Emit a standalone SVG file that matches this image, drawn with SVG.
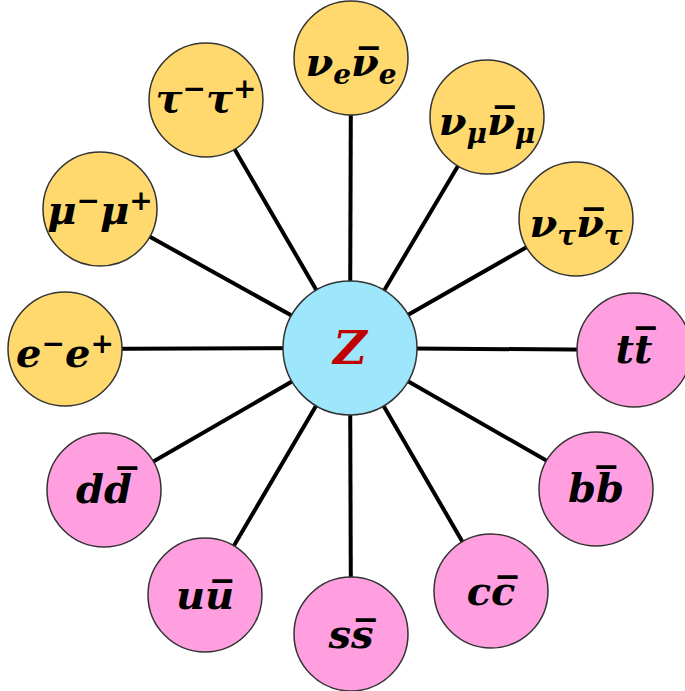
<svg xmlns="http://www.w3.org/2000/svg" width="685" height="691" viewBox="0 0 685 691">
<style>
.bg{fill:#ffffff}
.lep{fill:#ffd86e;stroke:#333333;stroke-width:1.5}
.qk{fill:#ff9fe0;stroke:#333333;stroke-width:1.5}
.zc{fill:#9de6fb;stroke:#333333;stroke-width:1.5}
.conn line{stroke:#000000;stroke-width:4}
.t{font-family:"DejaVu Serif","Liberation Serif",serif;font-style:italic;font-weight:bold;font-size:40px;fill:#000000;text-anchor:middle}
.s{font-size:28px}
.z{fill:#c00000;font-size:46px}
</style>
<rect class="bg" x="0" y="0" width="685" height="691"/>
<g id="connectors" class="conn">
<line x1="350" y1="348" x2="351" y2="58"/>
<line x1="350" y1="348" x2="487" y2="117"/>
<line x1="350" y1="348" x2="576" y2="219"/>
<line x1="350" y1="348" x2="634" y2="350"/>
<line x1="350" y1="348" x2="596" y2="489"/>
<line x1="350" y1="348" x2="491" y2="591"/>
<line x1="350" y1="348" x2="351" y2="634"/>
<line x1="350" y1="348" x2="205" y2="595"/>
<line x1="350" y1="348" x2="104" y2="490"/>
<line x1="350" y1="348" x2="65" y2="349"/>
<line x1="350" y1="348" x2="100" y2="209"/>
<line x1="350" y1="348" x2="206" y2="100"/>
</g>
<g id="nue">
<circle class="lep" cx="351" cy="58" r="57"/>
<text class="t" x="351" y="76">ν<tspan class="s" dy="8">e</tspan><tspan dy="-8">ν̅</tspan><tspan class="s" dy="8">e</tspan></text>
</g>
<g id="numu">
<circle class="lep" cx="487" cy="117" r="57"/>
<text class="t" x="487" y="135">ν<tspan class="s" dy="8">μ</tspan><tspan dy="-8">ν̅</tspan><tspan class="s" dy="8">μ</tspan></text>
</g>
<g id="nutau">
<circle class="lep" cx="576" cy="219" r="57"/>
<text class="t" x="576" y="237">ν<tspan class="s" dy="8">τ</tspan><tspan dy="-8">ν̅</tspan><tspan class="s" dy="8">τ</tspan></text>
</g>
<g id="tt">
<circle class="qk" cx="634" cy="350" r="57"/>
<text class="t" x="634" y="363">tt̅</text>
</g>
<g id="bb">
<circle class="qk" cx="596" cy="489" r="57"/>
<text class="t" x="596" y="502">bb̅</text>
</g>
<g id="cc">
<circle class="qk" cx="491" cy="591" r="57"/>
<text class="t" x="491" y="605">cc̅</text>
</g>
<g id="ss">
<circle class="qk" cx="351" cy="634" r="57"/>
<text class="t" x="351" y="648">ss̅</text>
</g>
<g id="uu">
<circle class="qk" cx="205" cy="595" r="57"/>
<text class="t" x="205" y="609">uu̅</text>
</g>
<g id="dd">
<circle class="qk" cx="104" cy="490" r="57"/>
<text class="t" x="104" y="503">dd̅</text>
</g>
<g id="ee">
<circle class="lep" cx="65" cy="349" r="57"/>
<text class="t" x="65" y="367">e<tspan class="s" dy="-14">−</tspan><tspan dy="14">e</tspan><tspan class="s" dy="-14">+</tspan></text>
</g>
<g id="mumu">
<circle class="lep" cx="100" cy="209" r="57"/>
<text class="t" x="100" y="224">μ<tspan class="s" dy="-14">−</tspan><tspan dy="14">μ</tspan><tspan class="s" dy="-14">+</tspan></text>
</g>
<g id="tautau">
<circle class="lep" cx="206" cy="100" r="57"/>
<text class="t" x="206" y="112">τ<tspan class="s" dy="-14">−</tspan><tspan dy="14">τ</tspan><tspan class="s" dy="-14">+</tspan></text>
</g>
<g id="Z">
<circle class="zc" cx="350" cy="348" r="67"/>
<text class="t z" x="350" y="364">Z</text>
</g>
</svg>
